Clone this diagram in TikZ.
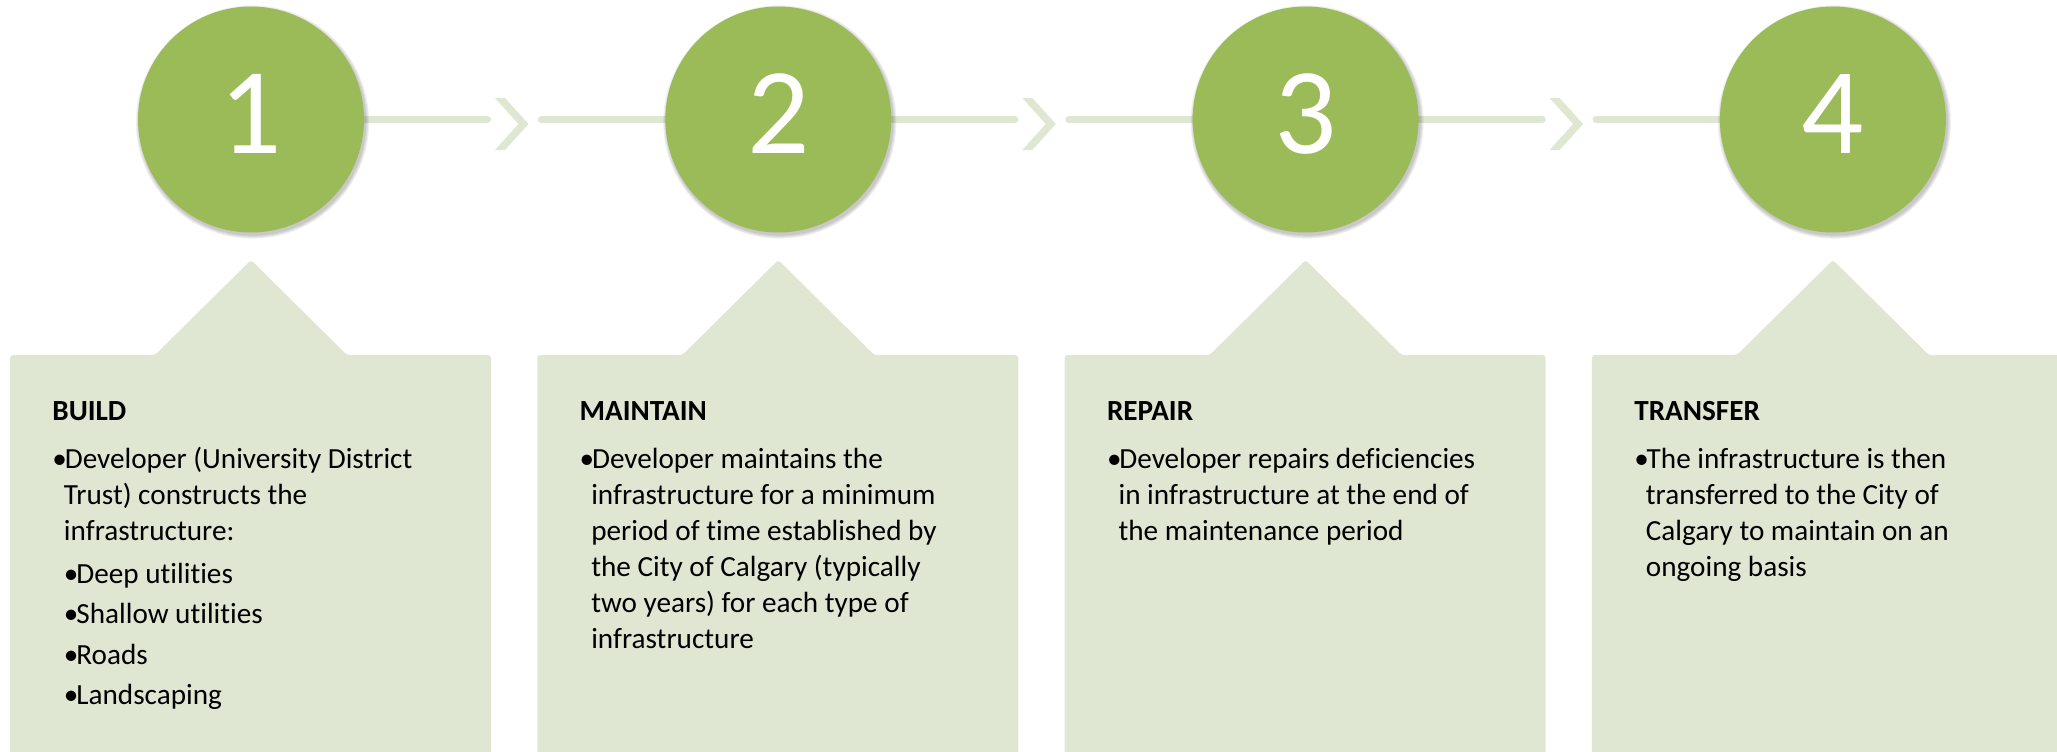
\documentclass[tikz,border=0pt]{standalone}
\usepackage{fontspec}
\setmainfont{Carlito}[Ligatures={NoCommon}]
\usetikzlibrary{backgrounds}
\definecolor{stepgreen}{HTML}{9BBB59}
\definecolor{steplight}{HTML}{DFE7D3}
\newcommand\stepbullet{\makebox[6.2pt][l]{•}}
\newcommand\stepindent{\hspace*{5.8pt}}
\newcommand\steptext[1]{\begin{minipage}[t]{235pt}\fontsize{14.6}{18}\selectfont\setlength\parindent{0pt}\setlength\parskip{0pt}\raggedright #1\end{minipage}}
\begin{document}
\begin{tikzpicture}[x=0.5pt,y=-0.5pt,
  stepcircle/.style={circle,fill=stepgreen,minimum size=113pt,inner sep=0pt},
  stepdigit/.style={text=white,font=\fontsize{61.5}{61.5}\selectfont,inner sep=0pt,anchor=base},
  steplink/.style={draw=steplight,line width=3.6pt,line cap=round},
  stepchev/.style={fill=steplight},
  stepcallout/.style={fill=steplight,rounded corners=1.5pt},
  stepbody/.style={anchor=base west,inner sep=0pt},
  stepshadow/.style={fill=black,opacity=0.06}]
\useasboundingbox (0,0) rectangle (2057,751);
\clip (0,0) rectangle (2057,751);
% callout boxes and circles
\foreach \k [evaluate=\k as \cx using 251+527.3*\k,
             evaluate=\k as \L using 10+527.3*\k,
             evaluate=\k as \n using int(\k+1)] in {0,1,2,3}{
  \fill[stepcallout] (\L,355) -- (\cx-96,355) -- (\cx,260) -- (\cx+96,355)
     -- (\L+481,355) -- (\L+481,770) -- (\L,770) -- cycle;
  \node[stepcircle] (c\n) at (\cx,119.5) {};
  \node[stepdigit] (d\n) at (\cx,153) {\n};
}
\begin{scope}[on background layer]
\foreach \k [evaluate=\k as \n using int(\k+1),
             evaluate=\k as \m using int(\k+2),
             evaluate=\k as \dx using 527.3*\k] in {0,1,2}{
  \coordinate (a\n) at (487.5+\dx,119.5);
  \coordinate (b\n) at (541.5+\dx,119.5);
  \draw[steplink] (c\n.east) -- (a\n);
  \draw[steplink] (b\n) -- (c\m.west);
  \fill[stepchev] (495+\dx,98) -- (505+\dx,98) -- (528.5+\dx,124)
     -- (505+\dx,150) -- (495+\dx,150) -- (518.5+\dx,124) -- cycle;
}
\foreach \n in {1,2,3,4}{
  \foreach \r in {56.8pt,57.3pt,57.8pt,58.3pt}{
    \fill[stepshadow] ([shift={(1.5,2.5)}]c\n.center) circle[radius=\r];
  }
}
\end{scope}
% texts
\node[stepbody] (t1) at (52,420) {\steptext{%
  \textbf{BUILD}\par\vspace{6pt}
  \stepbullet Developer (University District\\
  \stepindent Trust) constructs the\\
  \stepindent infrastructure:\par\vspace{3.5pt}
  \stepindent\stepbullet Deep utilities\par\vspace{2.3pt}
  \stepindent\stepbullet Shallow utilities\par\vspace{2.3pt}
  \stepindent\stepbullet Roads\par\vspace{2.3pt}
  \stepindent\stepbullet Landscaping}};
\node[stepbody] (t2) at (579.3,420) {\steptext{%
  \textbf{MAINTAIN}\par\vspace{6pt}
  \stepbullet Developer maintains the\\
  \stepindent infrastructure for a minimum\\
  \stepindent period of time established by\\
  \stepindent the City of Calgary (typically\\
  \stepindent two years) for each type of\\
  \stepindent infrastructure}};
\node[stepbody] (t3) at (1106.6,420) {\steptext{%
  \textbf{REPAIR}\par\vspace{6pt}
  \stepbullet Developer repairs deficiencies\\
  \stepindent in infrastructure at the end of\\
  \stepindent the maintenance period}};
\node[stepbody] (t4) at (1633.9,420) {\steptext{%
  \textbf{TRANSFER}\par\vspace{6pt}
  \stepbullet The infrastructure is then\\
  \stepindent transferred to the City of\\
  \stepindent Calgary to maintain on an\\
  \stepindent ongoing basis}};
\end{tikzpicture}
\end{document}
